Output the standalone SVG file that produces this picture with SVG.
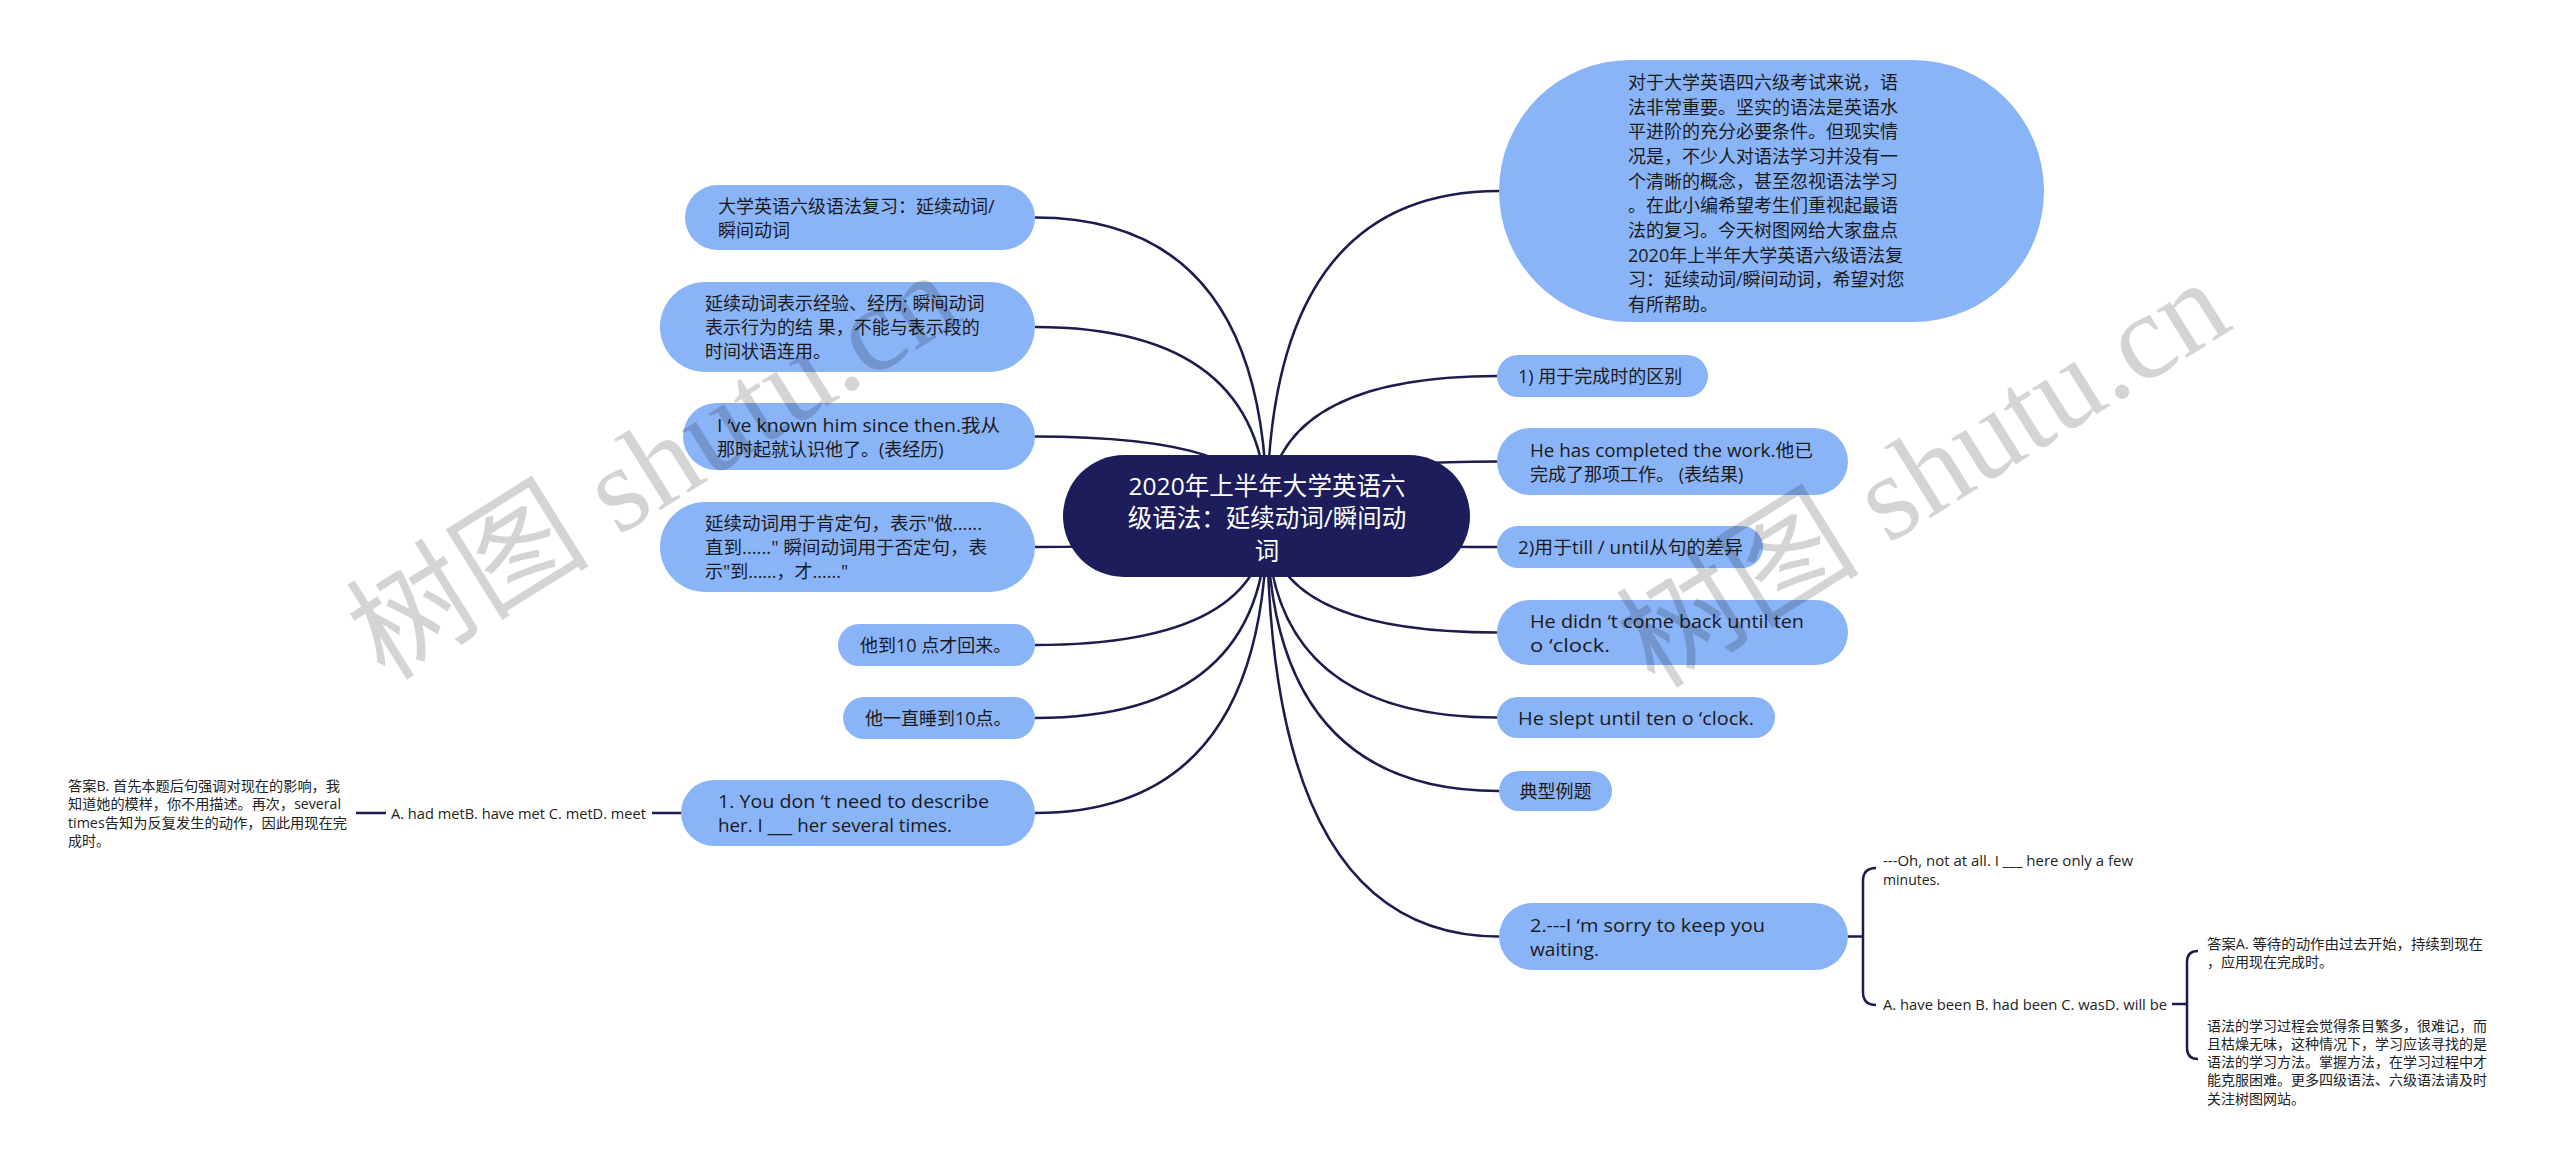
<svg xmlns="http://www.w3.org/2000/svg" width="2560" height="1173" viewBox="0 0 2560 1173">
<style>
.n{fill:#8AB4F8}
.root{fill:#1D1D5C}
.t{font-family:"Open Sans","Noto Sans CJK SC",sans-serif;font-size:18px;fill:#1a1a1a;dominant-baseline:central}
.s{font-size:14px;fill:#222}
.w{fill:#ffffff;font-size:24.5px;text-anchor:middle}
.c{fill:none;stroke:#1c1c4e;stroke-width:2.5}
.wm{font-family:"Liberation Serif","Noto Sans CJK SC",serif;font-size:122px;fill:#000;fill-opacity:0.17}
</style>
<rect width="2560" height="1173" fill="#ffffff"/>
<g id="connectors">
<path class="c" d="M1267,516 Q1267,191 1499,191"/>
<path class="c" d="M1267,516 Q1267,376 1497,376"/>
<path class="c" d="M1267,516 Q1267,461.5 1497,461.5"/>
<path class="c" d="M1267,516 Q1267,547 1497,547"/>
<path class="c" d="M1267,516 Q1267,632.5 1497,632.5"/>
<path class="c" d="M1267,516 Q1267,717.5 1497,717.5"/>
<path class="c" d="M1267,516 Q1267,791 1499,791"/>
<path class="c" d="M1267,516 Q1267,936.5 1499,936.5"/>
<path class="c" d="M1267,516 Q1267,217.5 1035,217.5"/>
<path class="c" d="M1267,516 Q1267,327 1035,327"/>
<path class="c" d="M1267,516 Q1267,436.5 1035,436.5"/>
<path class="c" d="M1267,516 Q1267,547 1035,547"/>
<path class="c" d="M1267,516 Q1267,645 1035,645"/>
<path class="c" d="M1267,516 Q1267,718 1035,718"/>
<path class="c" d="M1267,516 Q1267,813 1035,813"/>
<path class="c" d="M681,813 H652"/>
<path class="c" d="M386,813 H356"/>
<path class="c" d="M1848,936.5 H1863 M1876,868 Q1863,868 1863,881 V992 Q1863,1005 1876,1005"/>
<path class="c" d="M2172,1004 H2187 M2198,951 Q2187,951 2187,962 V1048 Q2187,1059 2198,1059"/>
</g>
<g id="root">
<rect class="root" x="1063" y="455" width="407" height="122" rx="61"/>
<text class="t w" x="1267" y="485" textLength="277">2020年上半年大学英语六</text>
<text class="t w" x="1267" y="517.5">级语法：延续动词/瞬间动</text>
<text class="t w" x="1267" y="550">词</text>
</g>
<g id="intro">
<rect class="n" x="1499" y="60" width="545" height="262" rx="131"/>
<text class="t" x="1628" y="82">对于大学英语四六级考试来说，语</text>
<text class="t" x="1628" y="106.7">法非常重要。坚实的语法是英语水</text>
<text class="t" x="1628" y="131.3">平进阶的充分必要条件。但现实情</text>
<text class="t" x="1628" y="156">况是，不少人对语法学习并没有一</text>
<text class="t" x="1628" y="180.7">个清晰的概念，甚至忽视语法学习</text>
<text class="t" x="1628" y="205.3">。在此小编希望考生们重视起最语</text>
<text class="t" x="1628" y="230">法的复习。今天树图网给大家盘点</text>
<text class="t" x="1628" y="254.7">2020年上半年大学英语六级语法复</text>
<text class="t" x="1628" y="279.3">习：延续动词/瞬间动词，希望对您</text>
<text class="t" x="1628" y="304">有所帮助。</text>
</g>
<g id="r1">
<rect class="n" x="1497" y="355" width="211" height="42" rx="21"/>
<text class="t" x="1518" y="376">1) 用于完成时的区别</text>
</g>
<g id="r2">
<rect class="n" x="1497" y="428" width="351" height="67" rx="33.5"/>
<text class="t" x="1530" y="449.5" textLength="283" lengthAdjust="spacingAndGlyphs">He has completed the work.他已</text>
<text class="t" x="1530" y="473.5">完成了那项工作。 (表结果)</text>
</g>
<g id="r3">
<rect class="n" x="1497" y="526" width="266" height="42" rx="21"/>
<text class="t" x="1518" y="547" textLength="225" lengthAdjust="spacingAndGlyphs">2)用于till / until从句的差异</text>
</g>
<g id="r4">
<rect class="n" x="1497" y="600" width="351" height="65" rx="32.5"/>
<text class="t" x="1530" y="620.5" textLength="274" lengthAdjust="spacingAndGlyphs">He didn ‘t come back until ten</text>
<text class="t" x="1530" y="644.5" textLength="80" lengthAdjust="spacingAndGlyphs">o ‘clock.</text>
</g>
<g id="r5">
<rect class="n" x="1497" y="697" width="278" height="41" rx="20.5"/>
<text class="t" x="1518" y="717.5" textLength="236" lengthAdjust="spacingAndGlyphs">He slept until ten o ‘clock.</text>
</g>
<g id="r6">
<rect class="n" x="1499" y="771" width="113" height="40" rx="20"/>
<text class="t" x="1555.5" y="791" text-anchor="middle">典型例题</text>
</g>
<g id="r7">
<rect class="n" x="1499" y="903" width="349" height="67" rx="33.5"/>
<text class="t" x="1530" y="924.5" textLength="235" lengthAdjust="spacingAndGlyphs">2.---I ‘m sorry to keep you</text>
<text class="t" x="1530" y="948.5" textLength="69" lengthAdjust="spacingAndGlyphs">waiting.</text>
</g>
<g id="r7a">
<text class="t s" x="1883" y="860" textLength="250" lengthAdjust="spacingAndGlyphs">---Oh, not at all. I ___ here only a few</text>
<text class="t s" x="1883" y="879" textLength="57" lengthAdjust="spacingAndGlyphs">minutes.</text>
</g>
<g id="r7b">
<text class="t s" x="1883" y="1004" textLength="284" lengthAdjust="spacingAndGlyphs">A. have been B. had been C. wasD. will be</text>
</g>
<g id="r7b1">
<text class="t s" x="2207" y="943" textLength="276" lengthAdjust="spacingAndGlyphs">答案A. 等待的动作由过去开始，持续到现在</text>
<text class="t s" x="2207" y="961.5">，应用现在完成时。</text>
</g>
<g id="r7b2">
<text class="t s" x="2207" y="1025">语法的学习过程会觉得条目繁多，很难记，而</text>
<text class="t s" x="2207" y="1043.3">且枯燥无味，这种情况下，学习应该寻找的是</text>
<text class="t s" x="2207" y="1061.6">语法的学习方法。掌握方法，在学习过程中才</text>
<text class="t s" x="2207" y="1079.9">能克服困难。更多四级语法、六级语法请及时</text>
<text class="t s" x="2207" y="1098.2">关注树图网站。</text>
</g>
<g id="l1">
<rect class="n" x="685" y="185" width="350" height="65" rx="32.5"/>
<text class="t" x="718" y="205.5">大学英语六级语法复习：延续动词/</text>
<text class="t" x="718" y="229.5">瞬间动词</text>
</g>
<g id="l2">
<rect class="n" x="660" y="282" width="375" height="90" rx="45"/>
<text class="t" x="705" y="303">延续动词表示经验、经历; 瞬间动词</text>
<text class="t" x="705" y="327">表示行为的结 果，不能与表示段的</text>
<text class="t" x="705" y="351">时间状语连用。</text>
</g>
<g id="l3">
<rect class="n" x="683" y="403" width="352" height="67" rx="33.5"/>
<text class="t" x="717" y="424.5" textLength="283" lengthAdjust="spacingAndGlyphs">I ‘ve known him since then.我从</text>
<text class="t" x="717" y="448.5">那时起就认识他了。(表经历)</text>
</g>
<g id="l4">
<rect class="n" x="660" y="502" width="375" height="90" rx="45"/>
<text class="t" x="705" y="523" textLength="277" lengthAdjust="spacingAndGlyphs">延续动词用于肯定句，表示"做......</text>
<text class="t" x="705" y="547" textLength="282" lengthAdjust="spacingAndGlyphs">直到......" 瞬间动词用于否定句，表</text>
<text class="t" x="705" y="571">示"到......，才......"</text>
</g>
<g id="l5">
<rect class="n" x="838" y="624" width="197" height="42" rx="21"/>
<text class="t" x="860" y="645">他到10 点才回来。</text>
</g>
<g id="l6">
<rect class="n" x="843" y="697" width="192" height="42" rx="21"/>
<text class="t" x="865" y="718">他一直睡到10点。</text>
</g>
<g id="l7">
<rect class="n" x="681" y="780" width="354" height="66" rx="33"/>
<text class="t" x="718" y="801" textLength="271" lengthAdjust="spacingAndGlyphs">1. You don ‘t need to describe</text>
<text class="t" x="718" y="825" textLength="234" lengthAdjust="spacingAndGlyphs">her. I ___ her several times.</text>
</g>
<g id="l7a">
<text class="t s" x="391" y="813" textLength="255" lengthAdjust="spacingAndGlyphs">A. had metB. have met C. metD. meet</text>
</g>
<g id="l7a1">
<text class="t s" x="68" y="785.5" textLength="272" lengthAdjust="spacingAndGlyphs">答案B. 首先本题后句强调对现在的影响，我</text>
<text class="t s" x="68" y="803.8" textLength="273" lengthAdjust="spacingAndGlyphs">知道她的模样，你不用描述。再次，several</text>
<text class="t s" x="68" y="822.1" textLength="279" lengthAdjust="spacingAndGlyphs">times告知为反复发生的动作，因此用现在完</text>
<text class="t s" x="68" y="840.4">成时。</text>
</g>
<g id="watermarks">
<text class="wm" transform="translate(385,682) rotate(-32)">树图 shutu.cn</text>
<text class="wm" transform="translate(1655,690) rotate(-32)">树图 shutu.cn</text>
</g>
</svg>
